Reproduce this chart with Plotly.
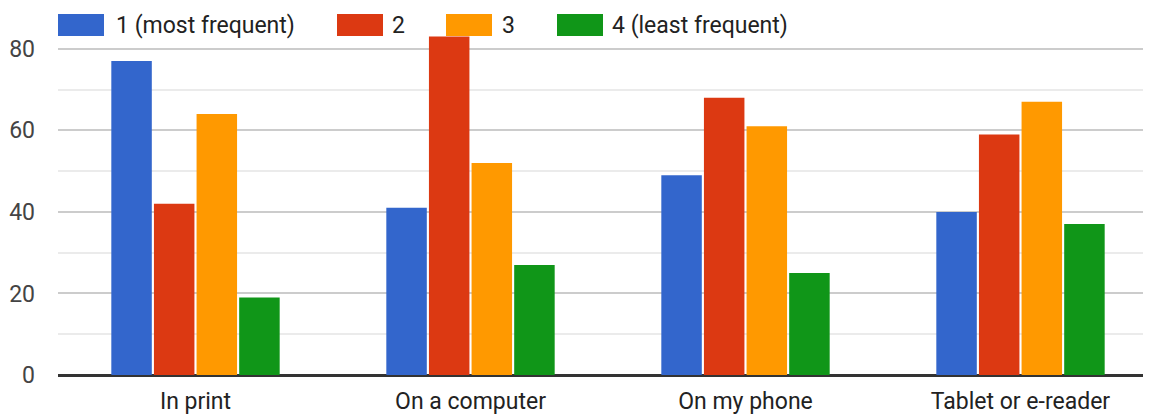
import plotly.graph_objects as go

categories = ["In print", "On a computer", "On my phone", "Tablet or e-reader"]
series_names = ["1 (most frequent)", "2", "3", "4 (least frequent)"]
s1 = [77, 41, 49, 40]
s2 = [42, 83, 68, 59]
s3 = [64, 52, 61, 67]
s4 = [19, 27, 25, 37]
y_ticks = [0, 20, 40, 60, 80]

colors = ["#3366cc", "#dc3912", "#ff9900", "#109618"]
series_values = [s1, s2, s3, s4]

OFF = 8  # default page body margin
W, H = 1143, 409
ML, MR, MT, MB = 50, 0, 0, 42
plot_w = W - ML - MR
plot_h = H - MT - MB
FONT = "Roboto, Arial, sans-serif"

fig = go.Figure()
for name, vals, col in zip(series_names, series_values, colors):
    fig.add_trace(go.Bar(x=categories, y=vals, name=name, marker_color=col,
                         marker_line_width=0, showlegend=False,
                         hovertemplate="%{x}<br>" + name + ": %{y}<extra></extra>"))

# custom legend (large swatches like the original), positions in page pixels
legend_px = [(58, 117), (337, 393), (446, 503), (557, 613)]
def px_x(p):
    return (p - OFF - ML) / plot_w
def px_y(p):
    return (H - MB - (p - OFF)) / plot_h

for (sx, tx), name, col in zip(legend_px, series_names, colors):
    fig.add_shape(type="rect", xref="paper", yref="paper",
                  x0=px_x(sx), x1=px_x(sx + 46), y0=px_y(36), y1=px_y(14),
                  fillcolor=col, line=dict(width=0))
    fig.add_annotation(xref="paper", yref="paper", x=px_x(tx - 3), y=px_y(25),
                       text=name, showarrow=False, xanchor="left", yanchor="middle",
                       font=dict(size=23, color="#222222", family=FONT))

fig.update_layout(
    width=W, height=H,
    margin=dict(l=ML, r=MR, t=MT, b=MB, autoexpand=False),
    paper_bgcolor="white", plot_bgcolor="white",
    barmode="group", bargap=0.38, bargroupgap=0.05,
    font=dict(family=FONT, size=23, color="#444444"),
)
fig.update_xaxes(range=[-0.5, -0.5 + plot_w / 275.0], showgrid=False, showline=False,
                 ticks="", tickfont=dict(size=23, color="#222222"), zeroline=False,
                 automargin=False, ticklabelstandoff=10)
fig.update_yaxes(range=[0, 90], tickvals=y_ticks, showgrid=True, gridcolor="#cccccc", gridwidth=1.5,
                 minor=dict(dtick=10, showgrid=True, gridcolor="#ebebeb", gridwidth=1.5),
                 zeroline=True, zerolinecolor="#333333", zerolinewidth=2.5,
                 tickfont=dict(size=23, color="#444444"), ticklabelstandoff=22, ticks="",
                 automargin=False)

fig.write_html("out.html")
